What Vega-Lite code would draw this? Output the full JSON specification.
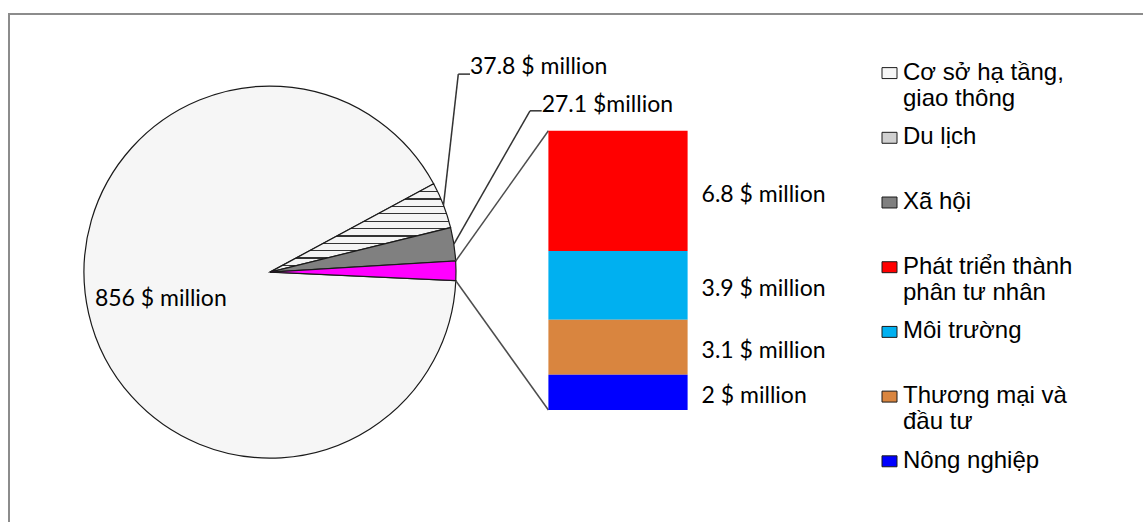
{
  "$schema": "https://vega.github.io/schema/vega-lite/v6.json",
  "width": 1143,
  "height": 522,
  "autosize": {"type": "fit", "contains": "padding"},
  "padding": {"left": 9, "top": 14, "right": -3, "bottom": -3},
  "background": "white",
  "config": {"view": {"stroke": "#8c8c8c", "strokeWidth": 2}},
  "datasets": {
    "pie": [
      {"cat": "Cơ sở hạ tầng, giao thông", "value": 856, "label": "856 $ million", "grp": "Pie"},
      {"cat": "Du lịch", "value": 37.8, "label": "37.8 $ million", "grp": "Pie"},
      {"cat": "Xã hội", "value": 27.1, "label": "27.1 $million", "grp": "Pie"},
      {"cat": "Khác", "value": 15.8, "label": "", "grp": "Pie"}
    ],
    "bar": [
      {"cat": "Phát triển thành phân tư nhân", "value": 6.8, "label": "6.8 $ million", "grp": "Bar"},
      {"cat": "Môi trường", "value": 3.9, "label": "3.9 $ million", "grp": "Bar"},
      {"cat": "Thương mại và đầu tư", "value": 3.1, "label": "3.1 $ million", "grp": "Bar"},
      {"cat": "Nông nghiệp", "value": 2, "label": "2 $ million", "grp": "Bar"}
    ]
  },
  "layer": [
    {
      "data": {"name": "pie"},
      "mark": {"type": "arc", "radius": 186, "stroke": "#1a1a1a", "strokeWidth": 1.2},
      "encoding": {
        "theta": {"field": "value", "type": "quantitative", "stack": true, "scale": {"range": [1.61687, 7.90006], "nice": false, "zero": true}},
        "order": {"field": "value", "sort": "descending"},
        "x": {"field": "grp", "type": "nominal", "axis": null, "scale": {"domain": ["Pie", "Bar"], "paddingInner": 0.6, "paddingOuter": 0.9336, "align": 0.29455}},
        "y": {"datum": 7.8, "type": "quantitative", "axis": null, "scale": {"domain": [-6.506, 22.402], "nice": false, "zero": false}},
        "fill": {
          "field": "cat",
          "type": "nominal",
          "scale": {
            "domain": ["Cơ sở hạ tầng, giao thông", "Du lịch", "Xã hội", "Phát triển thành phân tư nhân", "Môi trường", "Thương mại và đầu tư", "Nông nghiệp", "Khác"],
            "range": ["#f6f6f6", "#d0d0d0", "#808080", "#ff0000", "#00b0f0", "#d9853f", "#0000ff", "#ff00ff"]
          },
          "condition": [
            {"test": "datum.cat === 'Du lịch'", "value": {"gradient": "linear", "x1": 0, "y1": 0, "x2": 0, "y2": 1, "stops": [
              {"offset": 0, "color": "#333333"}, {"offset": 0.014, "color": "#333333"}, {"offset": 0.014, "color": "#f4f4f4"},
              {"offset": 0.0833, "color": "#f4f4f4"}, {"offset": 0.0833, "color": "#333333"}, {"offset": 0.0973, "color": "#333333"}, {"offset": 0.0973, "color": "#f4f4f4"},
              {"offset": 0.1667, "color": "#f4f4f4"}, {"offset": 0.1667, "color": "#333333"}, {"offset": 0.1807, "color": "#333333"}, {"offset": 0.1807, "color": "#f4f4f4"},
              {"offset": 0.25, "color": "#f4f4f4"}, {"offset": 0.25, "color": "#333333"}, {"offset": 0.264, "color": "#333333"}, {"offset": 0.264, "color": "#f4f4f4"},
              {"offset": 0.3333, "color": "#f4f4f4"}, {"offset": 0.3333, "color": "#333333"}, {"offset": 0.3473, "color": "#333333"}, {"offset": 0.3473, "color": "#f4f4f4"},
              {"offset": 0.4167, "color": "#f4f4f4"}, {"offset": 0.4167, "color": "#333333"}, {"offset": 0.4307, "color": "#333333"}, {"offset": 0.4307, "color": "#f4f4f4"},
              {"offset": 0.5, "color": "#f4f4f4"}, {"offset": 0.5, "color": "#333333"}, {"offset": 0.514, "color": "#333333"}, {"offset": 0.514, "color": "#f4f4f4"},
              {"offset": 0.5833, "color": "#f4f4f4"}, {"offset": 0.5833, "color": "#333333"}, {"offset": 0.5973, "color": "#333333"}, {"offset": 0.5973, "color": "#f4f4f4"},
              {"offset": 0.6667, "color": "#f4f4f4"}, {"offset": 0.6667, "color": "#333333"}, {"offset": 0.6807, "color": "#333333"}, {"offset": 0.6807, "color": "#f4f4f4"},
              {"offset": 0.75, "color": "#f4f4f4"}, {"offset": 0.75, "color": "#333333"}, {"offset": 0.764, "color": "#333333"}, {"offset": 0.764, "color": "#f4f4f4"},
              {"offset": 0.8333, "color": "#f4f4f4"}, {"offset": 0.8333, "color": "#333333"}, {"offset": 0.8473, "color": "#333333"}, {"offset": 0.8473, "color": "#f4f4f4"},
              {"offset": 0.9167, "color": "#f4f4f4"}, {"offset": 0.9167, "color": "#333333"}, {"offset": 0.9307, "color": "#333333"}, {"offset": 0.9307, "color": "#f4f4f4"},
              {"offset": 1, "color": "#f4f4f4"}
            ]}}
          ],
          "legend": {
            "orient": "none",
            "legendX": 868.5,
            "legendY": 53.6,
            "title": null,
            "padding": 0,
            "values": ["Cơ sở hạ tầng, giao thông", "Du lịch", "Xã hội", "Phát triển thành phân tư nhân", "Môi trường", "Thương mại và đầu tư", "Nông nghiệp"],
            "symbolType": "M-1,-1.597H1V-0.137H-1Z",
            "symbolSize": 225,
            "symbolStrokeWidth": 1,
            "labelFont": "Liberation Sans",
            "labelFontSize": 24,
            "labelColor": "#000000",
            "labelLimit": 0,
            "labelOffset": 1.5,
            "labelBaseline": "alphabetic",
            "rowPadding": 14.7,
            "gridAlign": "all",
            "labelExpr": "datum.label === 'Cơ sở hạ tầng, giao thông' ? ['Cơ sở hạ tầng,', 'giao thông'] : datum.label === 'Phát triển thành phân tư nhân' ? ['Phát triển thành', 'phân tư nhân'] : datum.label === 'Thương mại và đầu tư' ? ['Thương mại và', 'đầu tư'] : [datum.label, '']",
            "encode": {
              "labels": {"lineHeight": {"value": 27}},
              "symbols": {"stroke": {"condition": {"test": "indexof(['Cơ sở hạ tầng, giao thông', 'Du lịch', 'Xã hội'], datum.value) >= 0", "value": "#000000"}, "value": "transparent"}}
            }
          }
        }
      }
    },
    {
      "data": {"name": "pie"},
      "mark": {"type": "text", "radius": 112, "font": "Lato", "fontSize": 23, "align": "center", "baseline": "middle", "dy": 1.5, "color": "#000000"},
      "encoding": {
        "theta": {"field": "value", "type": "quantitative", "stack": true},
        "order": {"field": "value", "sort": "descending"},
        "x": {"field": "grp", "type": "nominal"},
        "y": {"datum": 7.8, "type": "quantitative"},
        "text": {"condition": {"test": "datum.cat === 'Cơ sở hạ tầng, giao thông'", "field": "label"}, "value": ""}
      }
    },
    {
      "data": {"name": "pie"},
      "mark": {"type": "text", "radius": 186, "font": "Lato", "fontSize": 23, "align": "left", "baseline": "middle", "dx": 26.5, "dy": -138.1, "color": "#000000"},
      "encoding": {
        "theta": {"field": "value", "type": "quantitative", "stack": true},
        "order": {"field": "value", "sort": "descending"},
        "x": {"field": "grp", "type": "nominal"},
        "y": {"datum": 7.8, "type": "quantitative"},
        "text": {"condition": {"test": "datum.cat === 'Du lịch'", "field": "label"}, "value": ""}
      }
    },
    {
      "data": {"name": "pie"},
      "mark": {"type": "text", "radius": 186, "font": "Lato", "fontSize": 23, "align": "left", "baseline": "middle", "dx": 87.8, "dy": -139.5, "color": "#000000"},
      "encoding": {
        "theta": {"field": "value", "type": "quantitative", "stack": true},
        "order": {"field": "value", "sort": "descending"},
        "x": {"field": "grp", "type": "nominal"},
        "y": {"datum": 7.8, "type": "quantitative"},
        "text": {"condition": {"test": "datum.cat === 'Xã hội'", "field": "label"}, "value": ""}
      }
    },
    {
      "data": {"values": [{}]},
      "mark": {"type": "rule", "color": "#4d4d4d", "strokeWidth": 1.5, "xOffset": 185.7, "yOffset": -11.1, "x2Offset": -69.6},
      "encoding": {
        "x": {"datum": "Pie", "type": "nominal"},
        "x2": {"datum": "Bar"},
        "y": {"datum": 7.8, "type": "quantitative"},
        "y2": {"datum": 15.8}
      }
    },
    {
      "data": {"values": [{}]},
      "mark": {"type": "rule", "color": "#4d4d4d", "strokeWidth": 1.5, "xOffset": 185.8, "yOffset": 8.6, "x2Offset": -69.6},
      "encoding": {
        "x": {"datum": "Pie", "type": "nominal"},
        "x2": {"datum": "Bar"},
        "y": {"datum": 7.8, "type": "quantitative"},
        "y2": {"datum": 0}
      }
    },
    {
      "data": {"values": [{}]},
      "mark": {"type": "rule", "color": "#333333", "strokeWidth": 1.5, "xOffset": 173.5, "yOffset": -67, "x2Offset": 188.3, "y2Offset": -198},
      "encoding": {
        "x": {"datum": "Pie", "type": "nominal"},
        "x2": {"datum": "Pie"},
        "y": {"datum": 7.8, "type": "quantitative"},
        "y2": {"datum": 7.8}
      }
    },
    {
      "data": {"values": [{}]},
      "mark": {"type": "rule", "color": "#333333", "strokeWidth": 1.5, "xOffset": 188.3, "yOffset": -198, "x2Offset": 200, "y2Offset": -198},
      "encoding": {
        "x": {"datum": "Pie", "type": "nominal"},
        "x2": {"datum": "Pie"},
        "y": {"datum": 7.8, "type": "quantitative"},
        "y2": {"datum": 7.8}
      }
    },
    {
      "data": {"values": [{}]},
      "mark": {"type": "rule", "color": "#333333", "strokeWidth": 1.5, "xOffset": 183.9, "yOffset": -28, "x2Offset": 260, "y2Offset": -161.3},
      "encoding": {
        "x": {"datum": "Pie", "type": "nominal"},
        "x2": {"datum": "Pie"},
        "y": {"datum": 7.8, "type": "quantitative"},
        "y2": {"datum": 7.8}
      }
    },
    {
      "data": {"values": [{}]},
      "mark": {"type": "rule", "color": "#333333", "strokeWidth": 1.5, "xOffset": 260, "yOffset": -161.3, "x2Offset": 271.7, "y2Offset": -161.3},
      "encoding": {
        "x": {"datum": "Pie", "type": "nominal"},
        "x2": {"datum": "Pie"},
        "y": {"datum": 7.8, "type": "quantitative"},
        "y2": {"datum": 7.8}
      }
    },
    {
      "data": {"name": "bar"},
      "transform": [{"stack": "value", "groupby": ["grp"], "sort": [{"field": "value", "order": "ascending"}], "as": ["v0", "v1"]}],
      "mark": {"type": "bar"},
      "encoding": {
        "x": {"field": "grp", "type": "nominal"},
        "y": {"field": "v0", "type": "quantitative"},
        "y2": {"field": "v1"},
        "fill": {"field": "cat", "type": "nominal"}
      }
    },
    {
      "data": {"name": "bar"},
      "transform": [
        {"stack": "value", "groupby": ["grp"], "sort": [{"field": "value", "order": "ascending"}], "as": ["v0", "v1"]},
        {"calculate": "(datum.v0 + datum.v1) / 2", "as": "mid"}
      ],
      "mark": {"type": "text", "font": "Lato", "fontSize": 23, "align": "left", "baseline": "middle", "dx": 14, "dy": 4, "color": "#000000"},
      "encoding": {
        "x": {"field": "grp", "type": "nominal", "bandPosition": 1},
        "y": {"field": "mid", "type": "quantitative"},
        "text": {"field": "label"}
      }
    }
  ]
}
